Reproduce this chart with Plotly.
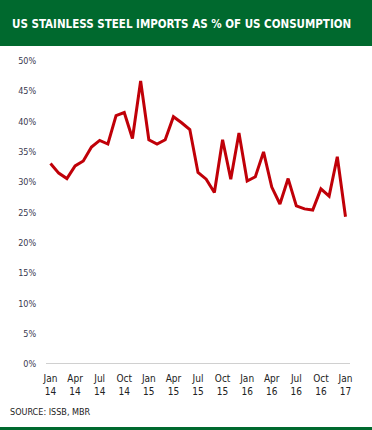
import plotly.graph_objects as go

months = ["2014-01","2014-02","2014-03","2014-04","2014-05","2014-06","2014-07","2014-08","2014-09","2014-10","2014-11","2014-12",
          "2015-01","2015-02","2015-03","2015-04","2015-05","2015-06","2015-07","2015-08","2015-09","2015-10","2015-11","2015-12",
          "2016-01","2016-02","2016-03","2016-04","2016-05","2016-06","2016-07","2016-08","2016-09","2016-10","2016-11","2016-12",
          "2017-01"]
imports_pct = [33.1, 31.5, 30.6, 32.7, 33.5, 35.8, 36.9, 36.3, 41.0, 41.5, 37.2, 46.7,
               37.0, 36.3, 37.0, 40.8, 39.8, 38.7, 31.6, 30.5, 28.3, 37.0, 30.5, 38.1,
               30.2, 30.9, 35.0, 29.2, 26.4, 30.6, 26.1, 25.6, 25.4, 28.9, 27.7, 34.2,
               24.3]
tick_months = ["2014-01","2014-04","2014-07","2014-10","2015-01","2015-04","2015-07","2015-10",
               "2016-01","2016-04","2016-07","2016-10","2017-01"]
tick_text = ["Jan<br>14","Apr<br>14","Jul<br>14","Oct<br>14","Jan<br>15","Apr<br>15","Jul<br>15","Oct<br>15",
             "Jan<br>16","Apr<br>16","Jul<br>16","Oct<br>16","Jan<br>17"]
y_ticks = [0, 5, 10, 15, 20, 25, 30, 35, 40, 45, 50]

title = "US STAINLESS STEEL IMPORTS AS % OF US CONSUMPTION"
source = "SOURCE: ISSB, MBR"

FONT = "DejaVu Sans Condensed, Liberation Sans Narrow, sans-serif"
GREEN = "#00692e"

fig = go.Figure()
fig.add_trace(go.Scatter(x=months, y=imports_pct, mode="lines",
                         line=dict(color="#c00008", width=3), hoverinfo="x+y"))

L, T, R, B = 46, 61, 22, 66
W, H = 372, 430
pw, ph = W - L - R, H - T - B

def px(xp):
    return (xp - L) / pw

def py(yp):
    return (H - B - yp) / ph

fig.update_layout(
    width=W, height=H,
    margin=dict(l=L, r=R, t=T, b=B),
    paper_bgcolor="white", plot_bgcolor="white",
    showlegend=False,
    font=dict(family=FONT, color="#333333", size=9),
    xaxis=dict(type="category", range=[-0.55, 36.55], tickvals=tick_months, ticktext=tick_text,
               showgrid=False, zeroline=False, showline=False,
               ticks="outside", ticklen=5, tickcolor="rgba(0,0,0,0)",
               tickfont=dict(size=10, color="#222222")),
    yaxis=dict(range=[0, 50], tickvals=y_ticks, ticktext=[f"{v}%" for v in y_ticks],
               showgrid=False, zeroline=False, showline=False,
               ticks="outside", ticklen=7, tickcolor="rgba(0,0,0,0)",
               tickfont=dict(size=9, color="#3a3a50")),
    shapes=[
        dict(type="rect", xref="paper", yref="paper", x0=px(0), x1=px(W), y0=py(46), y1=py(0),
             fillcolor=GREEN, line=dict(width=0), layer="below"),
        dict(type="line", xref="paper", yref="y", x0=0, x1=1, y0=0, y1=0,
             line=dict(color="#d0d0d0", width=2), layer="below"),
        dict(type="rect", xref="paper", yref="paper", x0=px(0), x1=px(W), y0=py(430), y1=py(427),
             fillcolor=GREEN, line=dict(width=0)),
    ],
    annotations=[
        dict(text=f"<b>{title}</b>", xref="paper", yref="paper", x=px(181), y=py(24),
             xanchor="center", yanchor="middle", showarrow=False,
             font=dict(family=FONT, size=11.5, color="white")),
        dict(text=source, xref="paper", yref="paper", x=px(8), y=py(412),
             xanchor="left", yanchor="middle", showarrow=False,
             font=dict(family=FONT, size=9, color="#222222")),
    ],
)

fig.write_html("out.html", config={"displayModeBar": False},
               post_script="document.body.style.margin='0';")
